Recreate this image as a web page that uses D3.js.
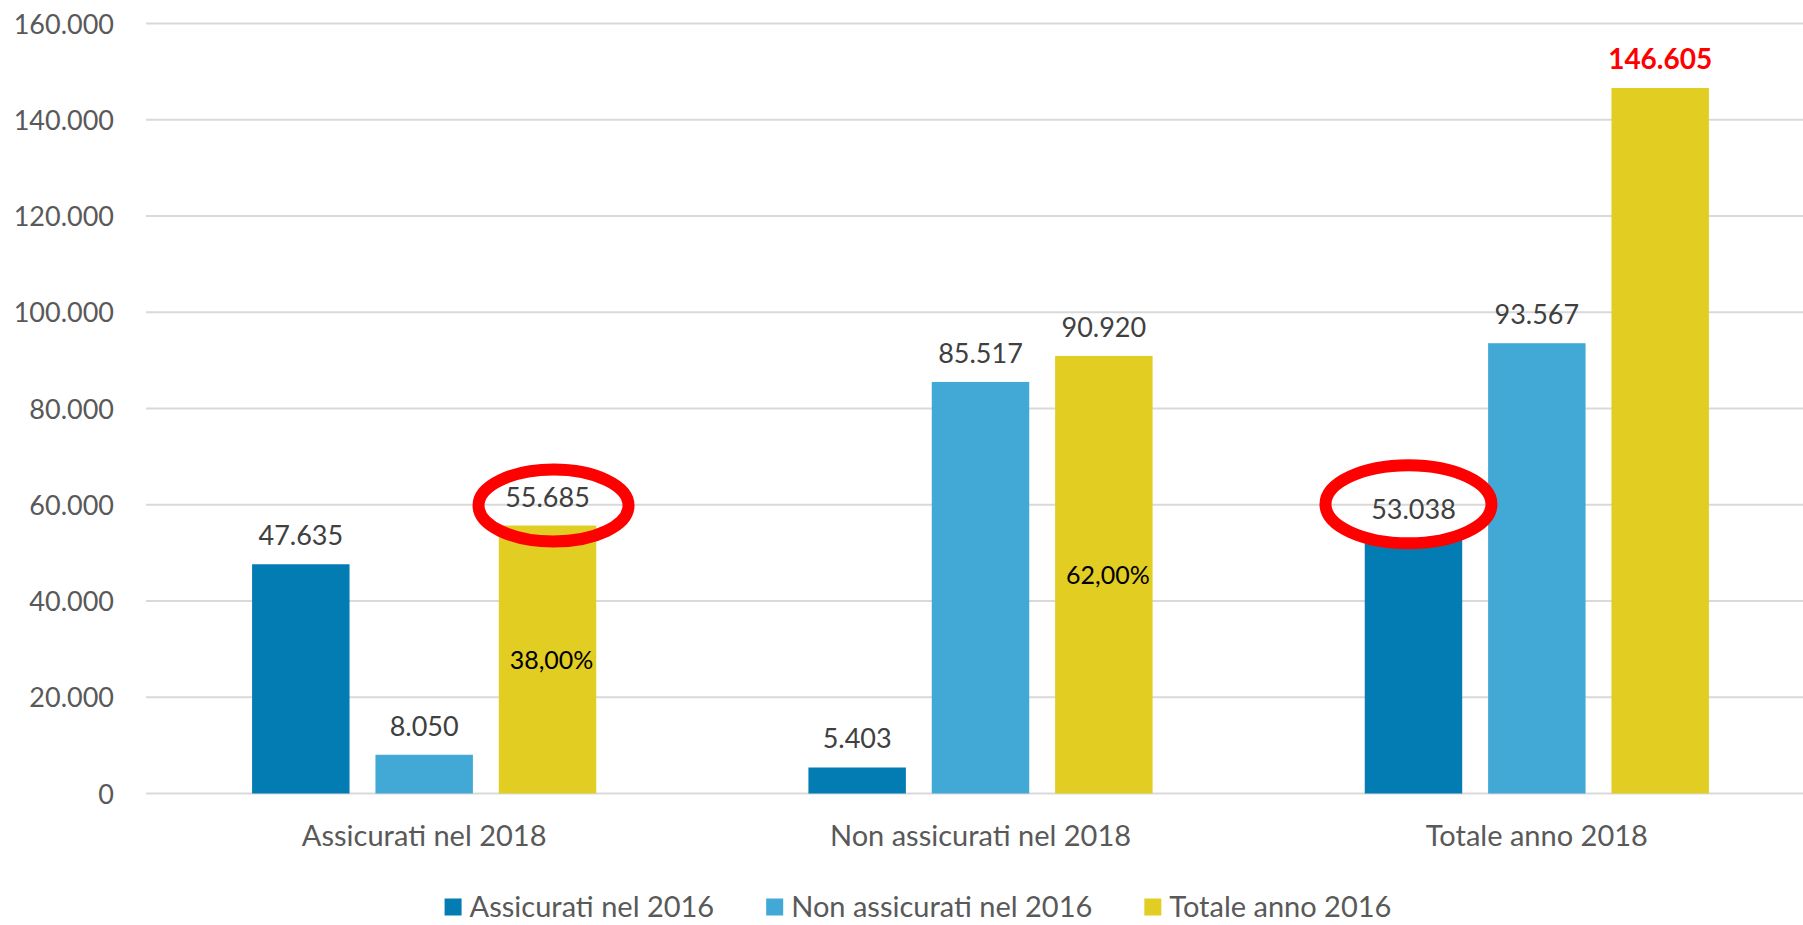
<!DOCTYPE html>
<html>
<head>
<meta charset="utf-8">
<script src="https://cdn.jsdelivr.net/npm/d3@7/dist/d3.min.js"></script>
<style>
  body { margin: 0; background: #fff; }
  svg text { font-family: Lato, "Open Sans", sans-serif; }
</style>
</head>
<body>
<div id="chart"></div>
<script>
//Size of the picture.
let w = 1803
let h = 925

//Categories along the x axis and the three series (one bar each per category).
let categories = ["Assicurati nel 2018", "Non assicurati nel 2018", "Totale anno 2018"]
let seriesNames = ["Assicurati nel 2016", "Non assicurati nel 2016", "Totale anno 2016"]
let assicurati2016 = [47635, 5403, 53038]
let nonAssicurati2016 = [8050, 85517, 93567]
let totale2016 = [55685, 90920, 146605]

//Tick values of the y axis.
let yTicks = [0, 20000, 40000, 60000, 80000, 100000, 120000, 140000, 160000]

//Share labels written inside the "Totale" bars.
let shareLabels = ["38,00%", "62,00%", ""]

//Hand drawn red ellipses round two labels: which bar, and how the ellipse sits on it.
let circled = [
  { ci: 0, si: 2, dx: 6, dy: -20, rx: 75, ry: 36 },
  { ci: 2, si: 0, dx: -5, dy: -34, rx: 83, ry: 39 }
]

let colors = ["#027cb3", "#42a9d7", "#e2cd22"]

let allSeries = [assicurati2016, nonAssicurati2016, totale2016]

//Italian number format (dot as thousands separator).
const it = d3.formatLocale({ decimal: ",", thousands: ".", grouping: [3], currency: ["€", ""] })
const fmt = it.format(",d")

const svg = d3.select("#chart")
  .append("svg")
  .attr("width", w)
  .attr("height", h)
  .style("display", "block")

//Plot area (the right edge runs past the picture, as in the original).
let plotLeft = 146
let plotRight = 1815
let plotTop = 23.5
let plotBottom = 793.5

let x0 = d3.scaleBand()
  .domain(categories)
  .range([plotLeft, plotRight])

let x1 = d3.scaleBand()
  .domain(d3.range(seriesNames.length))
  .range([0, x0.bandwidth()])
  .paddingInner(0.21)
  .paddingOuter(0.86)

let y = d3.scaleLinear()
  .domain([0, 160000])
  .range([plotBottom, plotTop])

//Gridlines.
svg.append("g")
  .selectAll("line")
  .data(yTicks)
  .enter()
  .append("line")
  .attr("x1", plotLeft)
  .attr("x2", w)
  .attr("y1", d => y(d))
  .attr("y2", d => y(d))
  .attr("stroke", "#d9d9d9")
  .attr("stroke-width", 2)

//Y axis labels.
let yAxis = d3.axisLeft(y)
  .tickValues(yTicks)
  .tickFormat(d => fmt(d))
  .tickSize(0)
  .tickPadding(0)

svg.append("g")
  .attr("transform", "translate(114,0)")
  .call(yAxis)
  .call(g => g.select(".domain").remove())
  .selectAll("text")
  .attr("fill", "#595959")
  .style("font-size", "27px")
  .attr("dy", "0.36em")

//X axis labels.
let xAxis = d3.axisBottom(x0).tickSize(0).tickPadding(0)
svg.append("g")
  .attr("transform", "translate(0," + 846 + ")")
  .call(xAxis)
  .call(g => g.select(".domain").remove())
  .selectAll("text")
  .attr("dy", 0)
  .attr("fill", "#595959")
  .style("font-size", "29px")

//Bars, one group per category.
let bars = []
categories.forEach((c, ci) => {
  allSeries.forEach((s, si) => {
    bars.push({ cat: c, ci: ci, si: si, value: s[ci] })
  })
})

let maxVal = d3.max(bars, d => d.value)

svg.append("g")
  .selectAll("rect")
  .data(bars)
  .enter()
  .append("rect")
  .attr("x", d => x0(d.cat) + x1(d.si))
  .attr("y", d => y(d.value))
  .attr("width", x1.bandwidth())
  .attr("height", d => plotBottom - y(d.value))
  .attr("fill", d => colors[d.si])

//Value labels above the bars.
svg.append("g")
  .selectAll("text")
  .data(bars)
  .enter()
  .append("text")
  .attr("x", d => x0(d.cat) + x1(d.si) + x1.bandwidth() / 2)
  .attr("y", d => y(d.value) - 19)
  .attr("text-anchor", "middle")
  .style("font-size", d => d.value == maxVal ? "28px" : "27px")
  .style("font-weight", d => d.value == maxVal ? "bold" : "normal")
  .attr("fill", d => d.value == maxVal ? "#ff0000" : "#404040")
  .text(d => fmt(d.value))

//Share labels inside the Totale bars.
svg.append("g")
  .selectAll("text")
  .data(bars.filter(d => d.si == 2 && shareLabels[d.ci]))
  .enter()
  .append("text")
  .attr("x", d => x0(d.cat) + x1(d.si) + x1.bandwidth() / 2 + 4)
  .attr("y", d => (y(d.value) + plotBottom) / 2)
  .attr("dy", "0.36em")
  .attr("text-anchor", "middle")
  .style("font-size", "25px")
  .attr("fill", "#000")
  .text(d => shareLabels[d.ci])

//Red ellipses round the highlighted labels.
svg.append("g")
  .selectAll("ellipse")
  .data(circled)
  .enter()
  .append("ellipse")
  .attr("cx", d => x0(categories[d.ci]) + x1(d.si) + x1.bandwidth() / 2 + d.dx)
  .attr("cy", d => y(allSeries[d.si][d.ci]) + d.dy)
  .attr("rx", d => d.rx)
  .attr("ry", d => d.ry)
  .attr("fill", "none")
  .attr("stroke", "#ff0000")
  .attr("stroke-width", 12)

//Legend.
let legend = svg.append("g")
let items = legend.selectAll("g")
  .data(seriesNames)
  .enter()
  .append("g")

items.append("rect")
  .attr("width", 17)
  .attr("height", 17)
  .attr("y", -8.5)
  .attr("fill", (d, i) => colors[i])

items.append("text")
  .attr("x", 25)
  .attr("dy", "0.36em")
  .attr("fill", "#595959")
  .style("font-size", "29px")
  .text(d => d)

let offset = 0
items.each(function () {
  let g = d3.select(this)
  g.attr("transform", "translate(" + offset + ",0)")
  offset += 25 + g.select("text").node().getComputedTextLength() + 52
})
let legendW = offset - 52
legend.attr("transform", "translate(" + (918 - legendW / 2) + ",907)")
</script>
</body>
</html>
